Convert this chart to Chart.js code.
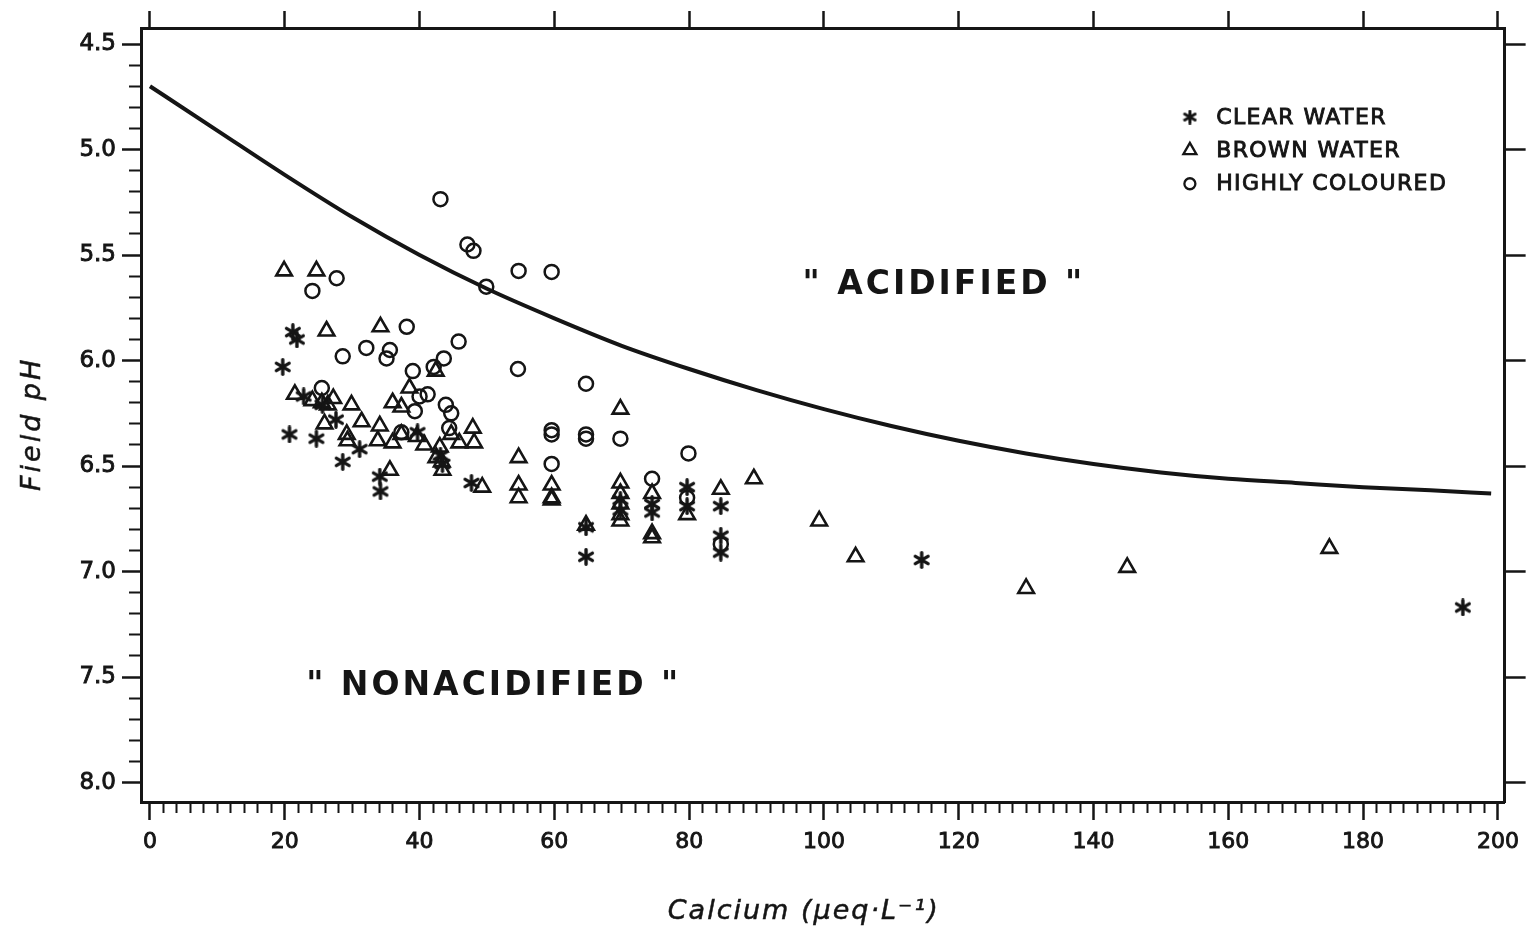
<!DOCTYPE html>
<html>
<head>
<meta charset="utf-8">
<title>Field pH and calcium</title>
<script src="https://cdn.jsdelivr.net/npm/chart.js@4.4.1/dist/chart.umd.min.js"></script>
<style>
  html, body { margin: 0; padding: 0; background: #fff; }
  #phChart { display: block; }
</style>
</head>
<body>
<canvas id="phChart" width="1528" height="934"></canvas>
<script>
// calcium (ueq/L) and field pH per lake group
const clearCa = [21.2, 21.8, 19.7, 20.7, 24.7, 27.6, 22.8, 25.6, 31.1, 28.6, 34.1, 34.2, 39.7, 47.7, 43.1, 43.4,
  64.7, 64.7, 69.8, 69.8, 74.5, 74.5, 79.7, 79.7, 84.7, 84.7, 84.7, 114.5, 194.8];
const clearPh = [5.865, 5.90, 6.03, 6.35, 6.37, 6.28, 6.17, 6.21, 6.42, 6.48, 6.55, 6.62, 6.34, 6.58, 6.45, 6.49,
  6.93, 6.79, 6.66, 6.71, 6.68, 6.72, 6.60, 6.69, 6.69, 6.83, 6.91, 6.945, 7.17];

const brownCa = [19.9, 24.7, 26.2, 34.2, 21.5, 24.1, 25.5, 26.4, 27.2, 29.9, 25.9, 31.4, 29.2, 29.3, 34.1, 33.8,
  36.0, 36.0, 37.3, 35.6, 38.5, 42.4, 37.3, 39.6, 40.7, 43.0, 42.5, 43.3, 43.4, 44.7, 45.9, 47.9, 48.1, 49.3,
  54.7, 54.7, 54.7, 59.6, 59.6, 59.6, 64.7, 69.8, 69.8, 69.8, 69.8, 69.8, 69.8, 74.5, 74.5, 74.5, 79.7, 84.7,
  89.6, 99.3, 104.7, 130.0, 145.0, 175.0];
const brownPh = [5.575, 5.575, 5.86, 5.84, 6.16, 6.19, 6.20, 6.21, 6.18, 6.21, 6.30, 6.29, 6.35, 6.38, 6.31, 6.38,
  6.39, 6.20, 6.22, 6.52, 6.13, 6.05, 6.35, 6.36, 6.40, 6.41, 6.46, 6.48, 6.52, 6.35, 6.39, 6.32, 6.39, 6.60,
  6.46, 6.59, 6.65, 6.59, 6.65, 6.66, 6.78, 6.23, 6.58, 6.63, 6.68, 6.73, 6.76, 6.63, 6.82, 6.84, 6.73, 6.61,
  6.56, 6.76, 6.93, 7.08, 6.98, 6.89];

const colouredCa = [43.1, 47.1, 48.0, 49.9, 54.7, 59.6, 27.7, 24.1, 28.6, 32.1, 35.6, 35.1, 38.1, 45.8, 43.6, 42.1,
  39.0, 54.6, 40.0, 41.2, 39.3, 43.9, 44.7, 44.4, 37.3, 25.5, 64.7, 59.6, 59.6, 64.7, 64.7, 59.6, 69.8, 79.9,
  74.5, 79.7, 84.7];
const colouredPh = [5.235, 5.45, 5.48, 5.65, 5.575, 5.58, 5.61, 5.67, 5.98, 5.94, 5.95, 5.99, 5.84, 5.91, 5.99, 6.03,
  6.05, 6.04, 6.17, 6.16, 6.24, 6.21, 6.25, 6.32, 6.34, 6.13, 6.11, 6.33, 6.35, 6.35, 6.37, 6.49, 6.37, 6.44,
  6.56, 6.65, 6.87];

// boundary between acidified and nonacidified lakes
const boundaryCa = [0, 10, 20, 30, 40, 50, 60, 70, 80, 90, 100, 110, 120, 130, 140, 150, 160, 170, 180, 190, 199];
const boundaryPh = [4.70, 4.91, 5.12, 5.32, 5.50, 5.66, 5.80, 5.93, 6.04, 6.14, 6.23, 6.31, 6.38, 6.44, 6.49, 6.53,
  6.56, 6.58, 6.60, 6.615, 6.63];

const xTickLabels = ['0', '20', '40', '60', '80', '100', '120', '140', '160', '180', '200'];
const yTickLabels = ['4.5', '5.0', '5.5', '6.0', '6.5', '7.0', '7.5', '8.0'];

const ink = '#151515';
const xMajor = xTickLabels.map(Number);
const yMajor = yTickLabels.map(Number);
const xMinor = Array.from({ length: 101 }, (_, i) => i * 2);
const yMinor = Array.from({ length: 36 }, (_, i) => (45 + i) / 10);

const isMajorX = v => xTickLabels.includes(String(v));
const isMajorY = v => yTickLabels.includes(Number(v).toFixed(1));
const pairs = (xs, ys) => xs.map((x, i) => ({ x, y: ys[i] }));

// six-armed asterisk marker
function makeAsterisk(size, lw) {
  const c = document.createElement('canvas');
  c.width = c.height = size;
  const g = c.getContext('2d');
  g.strokeStyle = ink;
  g.lineWidth = lw;
  g.lineCap = 'round';
  g.translate(size / 2, size / 2);
  const r = size / 2 - lw / 2;
  for (let k = 0; k < 3; k++) {
    const a = Math.PI / 2 + k * Math.PI / 3;
    g.beginPath();
    g.moveTo(Math.cos(a) * r, Math.sin(a) * r);
    g.lineTo(-Math.cos(a) * r, -Math.sin(a) * r);
    g.stroke();
  }
  return c;
}
const asterisk = makeAsterisk(18, 3.4);
const asteriskSmall = makeAsterisk(15, 3);

const tickFont = { family: 'DejaVu Sans', size: 22 };
const border = { display: true, width: 3, color: ink };

const legendRows = [
  { label: 'CLEAR WATER', style: asteriskSmall, radius: 7 },
  { label: 'BROWN WATER', style: 'triangle', radius: 7.5 },
  { label: 'HIGHLY COLOURED', style: 'circle', radius: 5.5 },
];

// fill plus a thin outline, for the heavier lettering
function inkText(ctx, text, x, y, w) {
  ctx.fillText(text, x, y);
  ctx.lineWidth = w;
  ctx.strokeText(text, x, y);
}

const figureText = {
  id: 'figureText',
  afterDraw(chart) {
    const { ctx, scales: { x, y } } = chart;
    ctx.save();
    ctx.fillStyle = ink;
    ctx.strokeStyle = ink;
    ctx.textBaseline = 'middle';

    ctx.font = 'bold 33px "DejaVu Sans"';
    ctx.letterSpacing = '3px';
    ctx.textAlign = 'center';
    ctx.fillText('" ACIDIFIED "', x.getPixelForValue(117.8), y.getPixelForValue(5.645));
    ctx.fillText('" NONACIDIFIED "', x.getPixelForValue(51), y.getPixelForValue(7.545));

    // legend, top right
    ctx.font = '22px "DejaVu Sans"';
    ctx.letterSpacing = '1.4px';
    ctx.textAlign = 'left';
    legendRows.forEach((row, i) => {
      const yy = y.getPixelForValue(4.846 + i * 0.158);
      ctx.save();
      ctx.fillStyle = 'rgba(0,0,0,0)';
      ctx.lineWidth = 2.3;
      Chart.helpers.drawPoint(ctx, { pointStyle: row.style, radius: row.radius, borderWidth: 2.3, rotation: 0 },
        x.getPixelForValue(154.3), yy);
      ctx.restore();
      inkText(ctx, row.label, x.getPixelForValue(158.2), yy + 1, 0.9);
    });

    // axis titles
    ctx.font = 'italic 27px "DejaVu Sans"';
    ctx.letterSpacing = '2px';
    ctx.textAlign = 'center';
    inkText(ctx, 'Calcium (\u03bceq\u00b7L\u207b\u00b9)', x.getPixelForValue(97), 912, 0.5);
    ctx.translate(33, y.getPixelForValue(6.3));
    ctx.rotate(-Math.PI / 2);
    ctx.letterSpacing = '3px';
    inkText(ctx, 'Field pH', 0, 0, 0.5);
    ctx.restore();
  }
};

new Chart(document.getElementById('phChart'), {
  type: 'scatter',
  data: {
    datasets: [
      {
        label: 'CLEAR WATER',
        data: pairs(clearCa, clearPh),
        pointStyle: asterisk,
        pointRadius: 8,
      },
      {
        label: 'BROWN WATER',
        data: pairs(brownCa, brownPh),
        pointStyle: 'triangle',
        pointRadius: 9,
        pointBorderWidth: 2.6,
        pointBorderColor: ink,
        pointBackgroundColor: 'rgba(0,0,0,0)',
      },
      {
        label: 'HIGHLY COLOURED',
        data: pairs(colouredCa, colouredPh),
        pointStyle: 'circle',
        pointRadius: 7,
        pointBorderWidth: 2.5,
        pointBorderColor: ink,
        pointBackgroundColor: 'rgba(0,0,0,0)',
      },
      {
        label: 'boundary',
        data: pairs(boundaryCa, boundaryPh),
        showLine: true,
        pointRadius: 0,
        borderColor: ink,
        borderWidth: 4,
        cubicInterpolationMode: 'monotone',
        fill: false,
      },
    ],
  },
  options: {
    responsive: false,
    animation: false,
    events: [],
    layout: { padding: 0 },
    plugins: { legend: { display: false }, tooltip: { enabled: false } },
    scales: {
      x: {
        type: 'linear', position: 'bottom', min: -1.33, max: 201,
        afterBuildTicks: s => { s.ticks = xMinor.map(value => ({ value })); },
        afterFit: s => { s.height = 132; },
        border,
        grid: {
          drawOnChartArea: false, tickLength: 18, tickColor: ink,
          tickWidth: c => (c.tick && isMajorX(c.tick.value) ? 2.5 : 2),
          tickBorderDash: c => (c.tick && isMajorX(c.tick.value) ? [] : [9, 100]),
        },
        ticks: {
          autoSkip: false, maxRotation: 0, padding: 9, color: ink, font: tickFont,
          textStrokeColor: ink, textStrokeWidth: 0.9,
          callback: v => (isMajorX(v) ? String(v) : ''),
        },
      },
      xTop: {
        type: 'linear', position: 'top', min: -1.33, max: 201,
        afterBuildTicks: s => { s.ticks = xMajor.map(value => ({ value })); },
        afterFit: s => { s.height = 28; },
        border,
        grid: { drawOnChartArea: false, tickLength: 17, tickColor: ink, tickWidth: 2.5 },
        ticks: { display: false },
      },
      y: {
        type: 'linear', position: 'left', reverse: true, min: 4.424, max: 8.092,
        afterBuildTicks: s => { s.ticks = yMinor.map(value => ({ value })); },
        afterFit: s => { s.width = 141; },
        border,
        grid: {
          drawOnChartArea: false, tickLength: 19, tickColor: ink,
          tickWidth: c => (c.tick && isMajorY(c.tick.value) ? 2.5 : 2),
          tickBorderDash: c => (c.tick && isMajorY(c.tick.value) ? [] : [0, 7, 11, 100]),
        },
        ticks: {
          autoSkip: false, padding: 6, color: ink, font: { family: 'DejaVu Sans', size: 23 },
          textStrokeColor: ink, textStrokeWidth: 0.9,
          callback: v => (isMajorY(v) ? Number(v).toFixed(1) : ''),
        },
      },
      yRight: {
        type: 'linear', position: 'right', reverse: true, min: 4.424, max: 8.092,
        afterBuildTicks: s => { s.ticks = yMajor.map(value => ({ value })); },
        afterFit: s => { s.width = 21; },
        border,
        grid: { drawOnChartArea: false, tickLength: 21, tickColor: ink, tickWidth: 2.5 },
        ticks: { display: false },
      },
    },
  },
  plugins: [figureText],
});
</script>
</body>
</html>
